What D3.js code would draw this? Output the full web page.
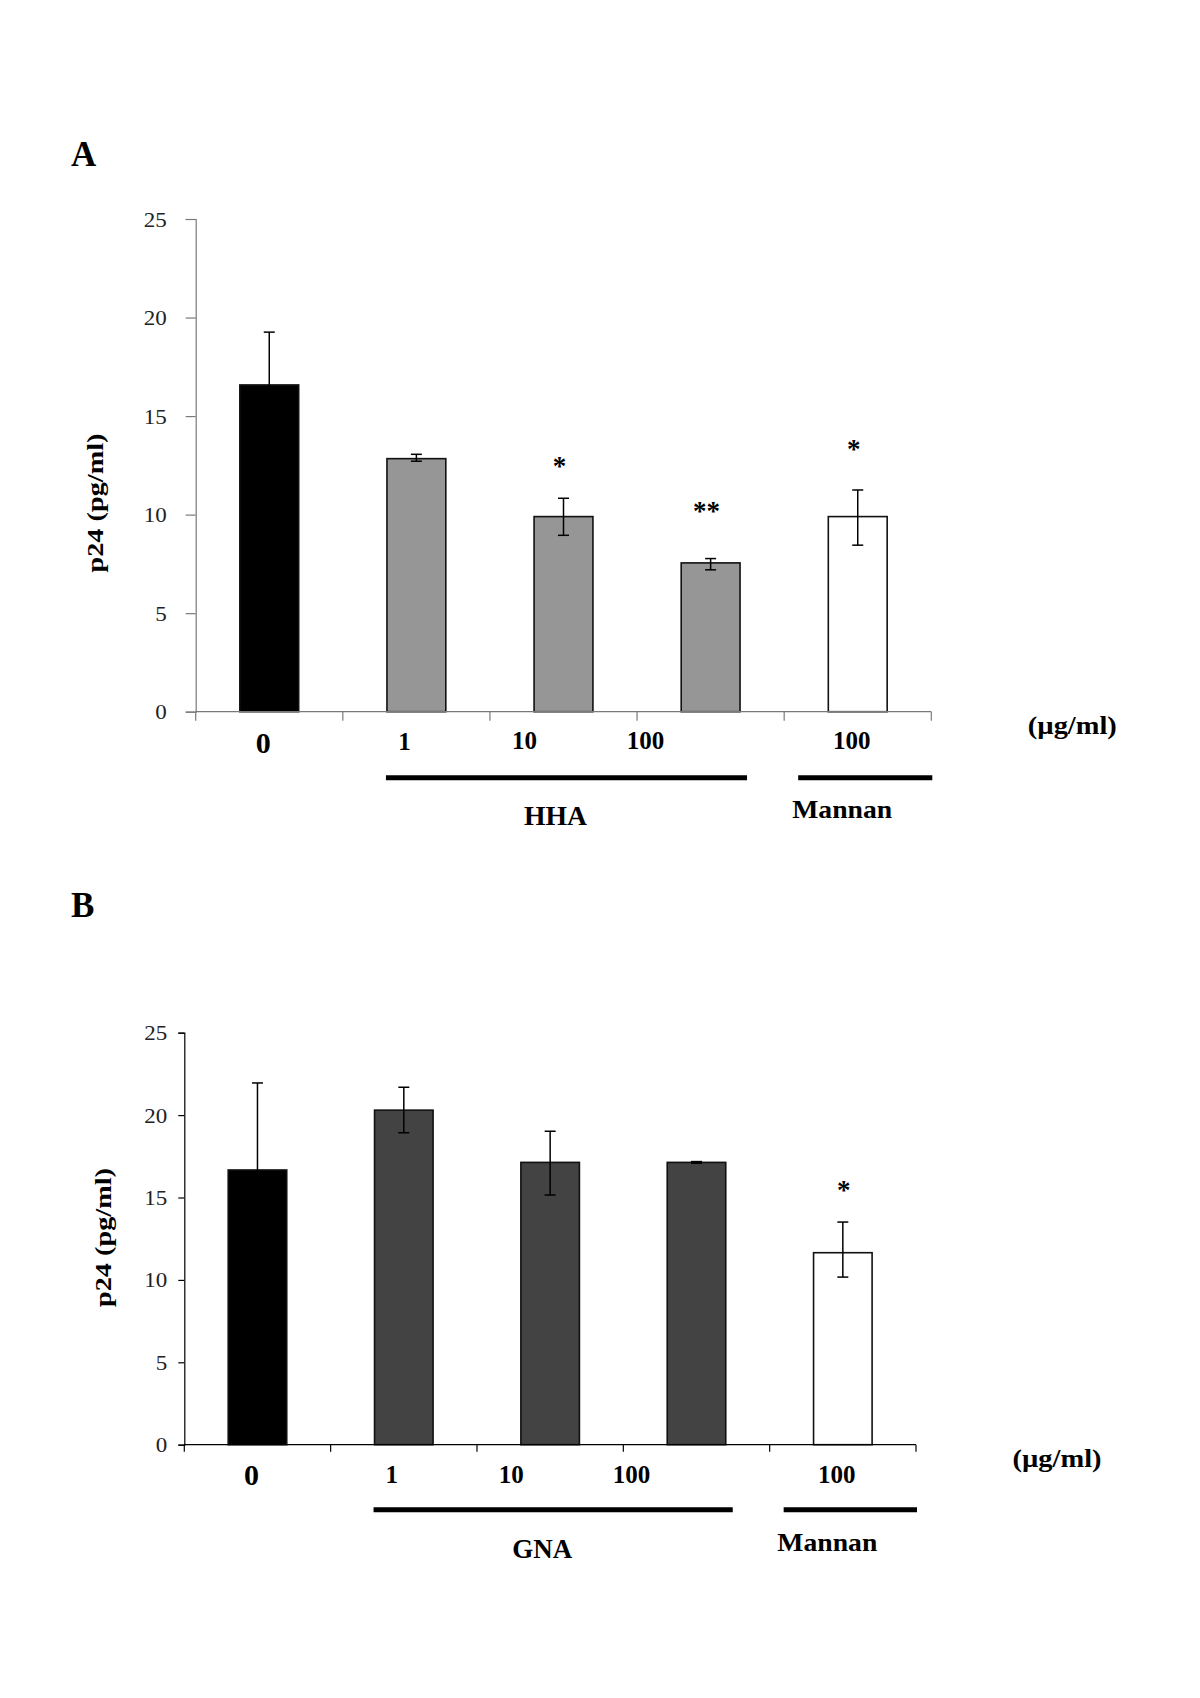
<!DOCTYPE html>
<html>
<head>
<meta charset="utf-8">
<script src="https://cdn.jsdelivr.net/npm/d3@7"></script>
<style>
  html, body { margin: 0; padding: 0; background: #fff; }
  svg { display: block; }
  text { font-family: "Liberation Serif", "Times New Roman", Times, serif; }
</style>
</head>
<body>
<script>
// ---------------- DATA ----------------
const categories = ["0", "1", "10", "100", "100"];
const groupOf = ["control", "lectin", "lectin", "lectin", "mannan"];
const yTicks = [0, 5, 10, 15, 20, 25];
const yTitle = "p24 (pg/ml)";
const unitLabel = "(\u00b5g/ml)";

// Panel A (HHA)
const hhaMeans = [16.58, 12.84, 9.90, 7.55, 9.90];
const hhaUpper = [19.26, 13.06, 10.83, 7.77, 11.25];
const hhaLower = [13.90, 12.71, 8.95, 7.20, 8.45];
const hhaStars = ["", "", "*", "**", "*"];
const hhaStarLevel = [0, 0, 12.0, 9.75, 12.85];

// Panel B (GNA)
const gnaMeans = [16.67, 20.30, 17.13, 17.13, 11.65];
const gnaUpper = [21.95, 21.69, 19.02, 17.18, 13.51];
const gnaLower = [11.39, 18.93, 15.15, 17.08, 10.17];
const gnaStars = ["", "", "", "", "*"];
const gnaStarLevel = [0, 0, 0, 0, 14.9];

// ---------------- LAYOUT ----------------
const W = 1200, H = 1698;
const svg = d3.select("body").append("svg").attr("width", W).attr("height", H);
svg.append("rect").attr("width", W).attr("height", H).attr("fill", "#fff");

const font = '"Liberation Serif", "Times New Roman", Times, serif';
// label offsets from band centre (px) and sizes
const labelDx = [-6, -12, -39, -65, -6];
const labelSize = [30, 25, 25, 25, 25];

function drawPanel(cfg) {
  const g = svg.append("g");
  const x = d3.scaleBand().domain(d3.range(categories.length))
    .range([cfg.x0, cfg.x1]).paddingInner(0.6).paddingOuter(0.3);
  const y = d3.scaleLinear().domain([0, 25]).range([cfg.yBottom, cfg.yTop]);
  const step = x.step();
  const bw = x.bandwidth();
  const boundary = i => x(i) - step * 0.3; // left boundary of band i

  // panel letter
  g.append("text").attr("x", 71).attr("y", cfg.letterY)
    .attr("font-size", 35).attr("font-weight", "bold").attr("fill", "#000")
    .text(cfg.letter);

  // y axis
  const yAxis = d3.axisLeft(y).tickValues(yTicks).tickSize(cfg.tickLen).tickPadding(cfg.tickPad).tickFormat(d3.format("d"));
  const ya = g.append("g").attr("transform", `translate(${cfg.x0},0)`).call(yAxis);
  ya.select(".domain").attr("stroke", cfg.axisColor).attr("stroke-width", 1.2);
  ya.selectAll(".tick line").attr("stroke", cfg.axisColor).attr("stroke-width", 1.2);
  ya.selectAll(".tick text").attr("font-size", 22).attr("font-family", font).attr("fill", "#222")
    .attr("textLength", d => d >= 10 ? 23 : 11.5).attr("lengthAdjust", "spacingAndGlyphs");

  // y title
  g.append("text")
    .attr("transform", `translate(${cfg.titleX},${cfg.titleY}) rotate(-90)`)
    .attr("text-anchor", "middle").attr("font-size", 23).attr("font-weight", "bold")
    .attr("textLength", 139).attr("lengthAdjust", "spacingAndGlyphs")
    .attr("fill", "#000").text(yTitle);

  // bars
  g.selectAll("rect.bar").data(cfg.means).join("rect").attr("class", "bar")
    .attr("x", (d, i) => x(i)).attr("width", bw)
    .attr("y", d => y(d)).attr("height", d => y(0) - y(d))
    .attr("fill", (d, i) => cfg.fills[groupOf[i]])
    .attr("stroke", "#111").attr("stroke-width", 1.6);

  // error bars
  const cap = 5.5;
  const eb = g.selectAll("g.err").data(cfg.means).join("g").attr("class", "err");
  eb.append("line")
    .attr("x1", (d, i) => x(i) + bw / 2).attr("x2", (d, i) => x(i) + bw / 2)
    .attr("y1", (d, i) => y(cfg.upper[i])).attr("y2", (d, i) => y(cfg.lower[i]))
    .attr("stroke", "#000").attr("stroke-width", 1.5);
  eb.append("line")
    .attr("x1", (d, i) => x(i) + bw / 2 - cap).attr("x2", (d, i) => x(i) + bw / 2 + cap)
    .attr("y1", (d, i) => y(cfg.upper[i])).attr("y2", (d, i) => y(cfg.upper[i]))
    .attr("stroke", "#000").attr("stroke-width", 1.5);
  eb.append("line")
    .attr("x1", (d, i) => x(i) + bw / 2 - cap).attr("x2", (d, i) => x(i) + bw / 2 + cap)
    .attr("y1", (d, i) => y(cfg.lower[i])).attr("y2", (d, i) => y(cfg.lower[i]))
    .attr("stroke", "#000").attr("stroke-width", 1.5);

  // x axis line and boundary ticks
  g.append("line").attr("x1", cfg.x0).attr("x2", cfg.x1)
    .attr("y1", y(0)).attr("y2", y(0))
    .attr("stroke", cfg.axisColor).attr("stroke-width", 1.2);
  const bounds = d3.range(categories.length).map(boundary).concat([cfg.x1]);
  g.selectAll("line.xt").data(bounds).join("line").attr("class", "xt")
    .attr("x1", d => d).attr("x2", d => d)
    .attr("y1", y(0)).attr("y2", y(0) + cfg.xTickLen)
    .attr("stroke", cfg.axisColor).attr("stroke-width", 1.2);

  // significance stars
  g.selectAll("text.star").data(cfg.stars).join("text").attr("class", "star")
    .attr("x", (d, i) => x(i) + bw / 2 + cfg.starDx)
    .attr("y", (d, i) => y(cfg.starLevel[i]))
    .attr("text-anchor", "middle").attr("font-size", 27).attr("font-weight", "bold")
    .attr("fill", "#000").text(d => d);

  // category labels
  g.selectAll("text.cat").data(categories).join("text").attr("class", "cat")
    .attr("x", (d, i) => x(i) + bw / 2 + labelDx[i])
    .attr("y", (d, i) => y(0) + cfg.labelDy[i])
    .attr("text-anchor", "middle").attr("font-size", (d, i) => labelSize[i])
    .attr("font-weight", "bold").attr("fill", "#000").text(d => d);

  // unit label
  g.append("text").attr("x", cfg.x1 + 141).attr("y", y(0) + cfg.unitDy)
    .attr("text-anchor", "middle").attr("font-size", 26).attr("font-weight", "bold")
    .attr("textLength", 89).attr("lengthAdjust", "spacingAndGlyphs")
    .attr("fill", "#000").text(unitLabel);

  // group bars + names
  const lineY = y(0) + cfg.groupLineDy;
  const lectinX0 = x(1) - 1, lectinX1 = x(3) + bw + 7;
  const mannanX0 = boundary(4) + 14, mannanX1 = cfg.x1 + 1;
  g.append("line").attr("x1", lectinX0).attr("x2", lectinX1)
    .attr("y1", lineY).attr("y2", lineY).attr("stroke", "#000").attr("stroke-width", 5);
  g.append("line").attr("x1", mannanX0).attr("x2", mannanX1)
    .attr("y1", lineY).attr("y2", lineY).attr("stroke", "#000").attr("stroke-width", 5);
  g.append("text").attr("x", (lectinX0 + lectinX1) / 2 - 11).attr("y", y(0) + cfg.lectinNameDy)
    .attr("text-anchor", "middle").attr("font-size", 27).attr("font-weight", "bold")
    .attr("textLength", cfg.lectinNameLen).attr("lengthAdjust", "spacingAndGlyphs")
    .attr("fill", "#000").text(cfg.lectinName);
  g.append("text").attr("x", (mannanX0 + mannanX1) / 2 - 23).attr("y", y(0) + cfg.mannanNameDy)
    .attr("text-anchor", "middle").attr("font-size", 26).attr("font-weight", "bold")
    .attr("textLength", 100).attr("lengthAdjust", "spacingAndGlyphs")
    .attr("fill", "#000").text("Mannan");
}

drawPanel({
  letter: "A", letterY: 166,
  x0: 195.7, x1: 931.3, yTop: 219, yBottom: 711.7,
  axisColor: "#7a7a7a", tickLen: 10, tickPad: 19, xTickLen: 9,
  titleX: 103, titleY: 503,
  means: hhaMeans, upper: hhaUpper, lower: hhaLower,
  stars: hhaStars, starLevel: hhaStarLevel, starDx: -4,
  fills: { control: "#000000", lectin: "#969696", mannan: "#ffffff" },
  labelDy: [41, 38, 37, 37, 37], unitDy: 22,
  groupLineDy: 66, lectinName: "HHA", lectinNameLen: 63, lectinNameDy: 113,
  mannanNameDy: 106
});

drawPanel({
  letter: "B", letterY: 917,
  x0: 184.3, x1: 916, yTop: 1032.7, yBottom: 1444.7,
  axisColor: "#000", tickLen: 6, tickPad: 11, xTickLen: 7,
  titleX: 111, titleY: 1237.5,
  means: gnaMeans, upper: gnaUpper, lower: gnaLower,
  stars: gnaStars, starLevel: gnaStarLevel, starDx: 1,
  fills: { control: "#000000", lectin: "#434343", mannan: "#ffffff" },
  labelDy: [40, 38, 38, 38, 38], unitDy: 22,
  groupLineDy: 65, lectinName: "GNA", lectinNameLen: 60, lectinNameDy: 113,
  mannanNameDy: 106
});
</script>
</body>
</html>
